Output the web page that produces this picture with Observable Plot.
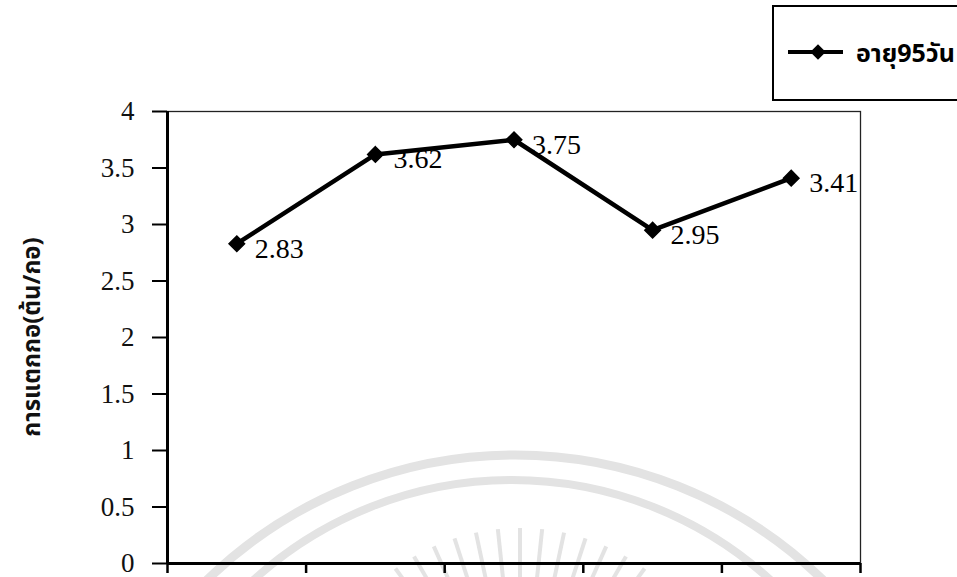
<!DOCTYPE html>
<html>
<head>
<meta charset="utf-8">
<script src="https://cdn.jsdelivr.net/npm/d3@7"></script>
<script src="https://cdn.jsdelivr.net/npm/@observablehq/plot@0.6"></script>
<style>
  html, body { margin: 0; padding: 0; background: #fff; overflow: hidden; }
  #chart svg { display: block; }
</style>
</head>
<body>
<div id="chart"></div>
<script>
// Tiller counts per treatment, plants aged 95 days
const treatments = ["T1", "T2", "T3", "T4", "T5"];
const tillers = [2.83, 3.62, 3.75, 2.95, 3.41];
const yTicks = [0, 0.5, 1, 1.5, 2, 2.5, 3, 3.5, 4];
const seriesName = "อายุ95วัน";
const yTitle = "การแตกกอ(ต้น/กอ)";

const rows = treatments.map((t, i) => ({ treatment: t, pos: i + 0.5, value: tillers[i] }));
const boundaries = d3.range(treatments.length + 1);

const serif = "'Liberation Serif', 'Times New Roman', serif";
const thai = "'Noto Sans Thai', 'Noto Sans', 'DejaVu Sans', sans-serif";

const plot = Plot.plot({
  width: 957,
  height: 577,
  marginLeft: 167,
  marginRight: 97,
  marginTop: 111,
  marginBottom: 14,
  style: { fontFamily: serif, background: "#fff", overflow: "visible" },
  x: { domain: [0, treatments.length] },
  y: { domain: [0, 4] },
  marks: [
    Plot.frame({ stroke: "#222", strokeWidth: 1.3 }),
    Plot.axisY(yTicks, {
      tickSize: 15,
      tickPadding: 18,
      strokeWidth: 2,
      fontSize: 27,
      tickFormat: d => String(d),
      fill: "#111",
      label: null
    }),
    Plot.axisX(boundaries, {
      tickSize: 10,
      strokeWidth: 2.5,
      tickFormat: () => "",
      label: null
    }),
    Plot.ruleX([0], { stroke: "#000", strokeWidth: 3 }),
    Plot.ruleY([0], { stroke: "#000", strokeWidth: 3 }),
    Plot.line(rows, { x: "pos", y: "value", stroke: "#000", strokeWidth: 4.5 }),
    Plot.dot(rows, { x: "pos", y: "value", symbol: "diamond2", r: 7, fill: "#000", stroke: "#000" }),
    Plot.text(rows, {
      x: "pos", y: "value", text: d => d.value.toFixed(2),
      dx: 18, dy: 5, textAnchor: "start", fontSize: 28, fill: "#000"
    })
  ]
});

const svg = d3.select(plot);
svg.selectAll('[aria-label="y-axis tick label"]').attr("font-size", 27);

// faint seal watermark behind the plot: two rings and a fan of rays
const bg = svg.insert("g", ":first-child").attr("fill", "none").attr("stroke", "#e3e3e3");
bg.append("circle").attr("cx", 515).attr("cy", 897).attr("r", 442).attr("stroke-width", 9);
bg.append("circle").attr("cx", 512).attr("cy", 864).attr("r", 384).attr("stroke-width", 8);
d3.range(-48, 49, 6).forEach(a => {
  const t = a * Math.PI / 180;
  bg.append("line")
    .attr("x1", 520 + 140 * Math.sin(t)).attr("y1", 740 - 140 * Math.cos(t))
    .attr("x2", 520 + 212 * Math.sin(t)).attr("y2", 740 - 212 * Math.cos(t))
    .attr("stroke-width", 4);
});
bg.append("rect").attr("x", 0).attr("y", 0).attr("width", 957).attr("height", 577)
  .attr("fill", "#fff").attr("stroke", "none").lower();

// rotated y-axis title
svg.append("text")
  .attr("transform", "translate(33,337) rotate(-90)")
  .attr("text-anchor", "middle")
  .attr("dominant-baseline", "middle")
  .attr("font-family", thai)
  .attr("font-weight", "bold")
  .attr("font-size", 24)
  .attr("fill", "#111")
  .text(yTitle);

// legend box
const lg = svg.append("g");
lg.append("rect").attr("x", 773).attr("y", 6).attr("width", 220).attr("height", 94)
  .attr("fill", "#fff").attr("stroke", "#000").attr("stroke-width", 2);
lg.append("line").attr("x1", 788).attr("x2", 843).attr("y1", 52).attr("y2", 52)
  .attr("stroke", "#000").attr("stroke-width", 4);
lg.append("path").attr("d", d3.symbol(d3.symbolDiamond2, 154)()).attr("transform", "translate(818,52)")
  .attr("fill", "#000");
lg.append("text").attr("x", 856).attr("y", 62)
  .attr("text-anchor", "start")
  .attr("font-family", thai).attr("font-weight", "bold").attr("font-size", 25)
  .attr("fill", "#000").text(seriesName);

document.getElementById("chart").appendChild(plot);
</script>
</body>
</html>
